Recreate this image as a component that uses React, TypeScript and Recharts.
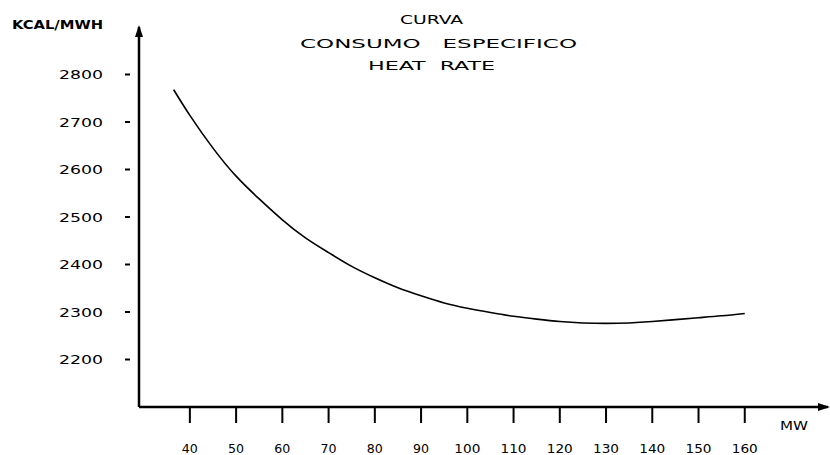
import React from 'react';
import { LineChart, Line, XAxis, YAxis, ReferenceDot } from 'recharts';

// MW (load) and heat-rate (kcal/MWh)
const mwValues = [36.5, 40, 45, 50, 55, 60, 65, 70, 75, 80, 85, 90, 95, 100, 105, 110, 115, 120, 125, 130, 135, 140, 145, 150, 155, 160];
const heatRate = [2768, 2714, 2645, 2586, 2538, 2494, 2456, 2425, 2396, 2372, 2351, 2334, 2319, 2308, 2299, 2291, 2285, 2280, 2277, 2276, 2277, 2280, 2284, 2288, 2292, 2297];
const xTicks = [40, 50, 60, 70, 80, 90, 100, 110, 120, 130, 140, 150, 160];
const yTicks = [2200, 2300, 2400, 2500, 2600, 2700, 2800];
const xDomain = [29, 178];
const yDomain = [2100, 2900];
const titleLines = ['CURVA', 'CONSUMO   ESPECIFICO', 'HEAT  RATE'];
const yAxisTitle = 'KCAL/MWH';
const xAxisTitle = 'MW';

const data = mwValues.map((mw, i) => ({ mw, hr: heatRate[i] }));

const FONT = '"DejaVu Sans Condensed", "DejaVu Sans", sans-serif';

const YTick = (props: any) => {
  const { x, y, payload } = props;
  return (
    <g>
      <line x1={x - 14} x2={x - 9} y1={y} y2={y} stroke="#000" strokeWidth={2} />
      <text x={x - 80} y={y} dy={4.5} fontFamily={FONT} fontSize={13} fill="#000"
        textLength={44} lengthAdjust="spacingAndGlyphs">{payload.value}</text>
    </g>
  );
};

const XTick = (props: any) => {
  const { x, y, payload } = props;
  const s = String(payload.value);
  const w = s.length === 2 ? 16 : 26;
  return (
    <text x={x - w / 2} y={y} dy={30} fontFamily={FONT} fontSize={12} fill="#000"
      textLength={w} lengthAdjust="spacingAndGlyphs">{s}</text>
  );
};

const UpArrow = (props: any) => {
  const { cx, cy } = props;
  return <polygon points={`${cx},${cy - 2} ${cx - 4},${cy + 10} ${cx + 4},${cy + 10}`} fill="#000" />;
};
const RightArrow = (props: any) => {
  const { cx, cy } = props;
  return <polygon points={`${cx + 2},${cy} ${cx - 10},${cy - 4} ${cx - 10},${cy + 4}`} fill="#000" />;
};

const pre = { whiteSpace: 'pre' as const };

export default function App() {
  return (
    <div style={{ position: 'absolute', left: 0, top: 0, width: 830, height: 455, background: '#fff' }}>
      <LineChart width={830} height={455} data={data} margin={{ top: 27, right: 2, bottom: 0, left: 0 }}>
        <XAxis type="number" dataKey="mw" domain={xDomain} ticks={xTicks} allowDataOverflow
          axisLine={{ stroke: '#000', strokeWidth: 2.5 }} tickLine={{ stroke: '#000', strokeWidth: 2 }}
          tickSize={16} tickMargin={0} height={48} tick={<XTick />} interval={0} />
        <YAxis type="number" domain={yDomain} ticks={yTicks} allowDataOverflow
          axisLine={{ stroke: '#000', strokeWidth: 2.5 }} tickLine={false}
          tickSize={0} tickMargin={0} width={139} tick={<YTick />} interval={0} />
        <Line dataKey="hr" type="natural" stroke="#000" strokeWidth={1.6} dot={false} isAnimationActive={false} />
        <ReferenceDot x={xDomain[0]} y={yDomain[1]} ifOverflow="visible" shape={<UpArrow />} />
        <ReferenceDot x={xDomain[1]} y={yDomain[0]} ifOverflow="visible" shape={<RightArrow />} />
      </LineChart>
      <svg width={830} height={455} style={{ position: 'absolute', left: 0, top: 0, pointerEvents: 'none' }}>
        <text x={12} y={29} fontFamily={FONT} fontWeight="bold" fontSize={12} fill="#000"
          textLength={91} lengthAdjust="spacingAndGlyphs">{yAxisTitle}</text>
        <text x={400} y={24} fontFamily={FONT} fontSize={13} fill="#000" style={pre}
          textLength={63} lengthAdjust="spacingAndGlyphs">{titleLines[0]}</text>
        <text x={300} y={48} fontFamily={FONT} fontSize={13} fill="#000" style={pre}
          textLength={277} lengthAdjust="spacingAndGlyphs">{titleLines[1]}</text>
        <text x={368} y={70} fontFamily={FONT} fontSize={13} fill="#000" style={pre}
          textLength={127} lengthAdjust="spacingAndGlyphs">{titleLines[2]}</text>
        <text x={780} y={430} fontFamily={FONT} fontSize={12} fill="#000"
          textLength={28} lengthAdjust="spacingAndGlyphs">{xAxisTitle}</text>
      </svg>
    </div>
  );
}
